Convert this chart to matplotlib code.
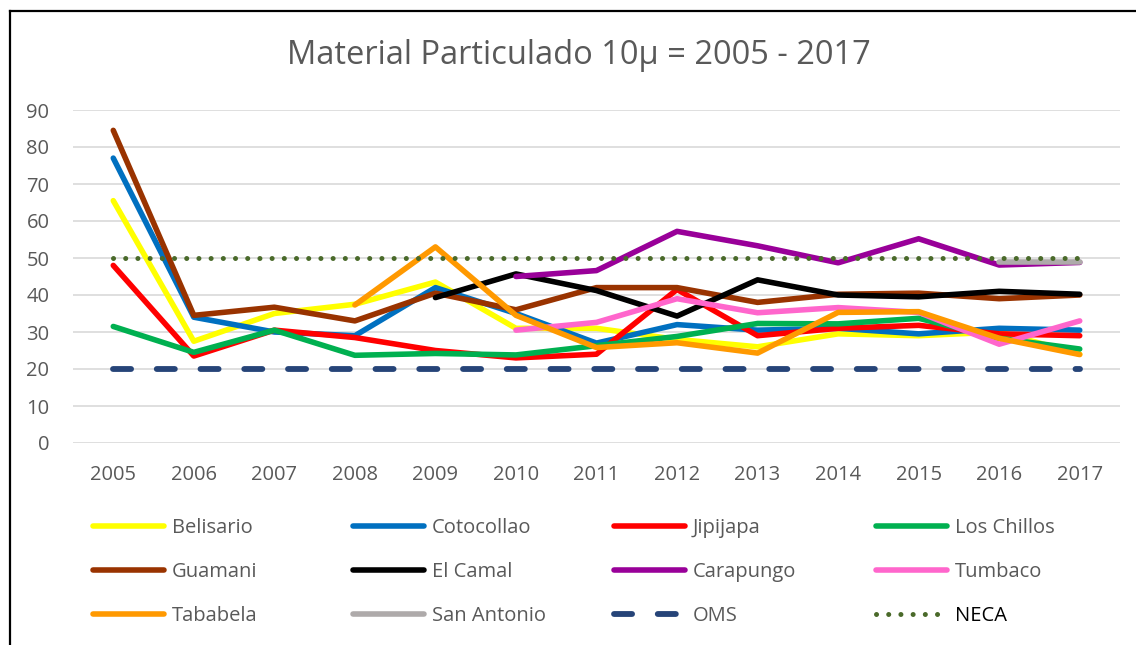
import matplotlib.pyplot as plt
import numpy as np
from matplotlib.lines import Line2D

plt.rcParams['font.family'] = ['Open Sans', 'DejaVu Sans']

years = ['2005', '2006', '2007', '2008', '2009', '2010', '2011',
         '2012', '2013', '2014', '2015', '2016', '2017']
nan = np.nan

belisario   = [65.5, 27.5, 35.0, 37.5, 43.5, 31.0, 31.0, 28.0, 26.0, 29.5, 29.0, 30.0, 24.0]
cotocollao  = [77.0, 34.0, 30.0, 29.0, 42.0, 35.0, 27.0, 32.0, 30.5, 31.0, 29.5, 31.0, 30.5]
jipijapa    = [48.0, 23.5, 30.5, 28.5, 25.0, 23.0, 24.0, 41.5, 29.0, 31.0, 31.8, 29.5, 29.0]
los_chillos = [31.5, 24.5, 30.5, 23.7, 24.2, 23.8, 26.3, 28.8, 32.3, 32.2, 33.7, 28.3, 25.4]
guamani     = [84.5, 34.5, 36.7, 33.0, 40.5, 36.0, 42.0, 42.0, 38.0, 40.2, 40.5, 39.0, 40.0]
el_camal    = [nan, nan, nan, nan, 39.3, 45.7, 41.2, 34.3, 44.1, 40.0, 39.5, 41.0, 40.2]
carapungo   = [nan, nan, nan, nan, nan, 45.0, 46.6, 57.2, 53.3, 48.7, 55.2, 48.1, 48.8]
tumbaco     = [nan, nan, nan, nan, nan, 30.5, 32.6, 39.0, 35.2, 36.6, 35.3, 26.7, 33.0]
tababela    = [nan, nan, nan, 37.3, 53.0, 34.5, 25.8, 27.1, 24.3, 35.3, 35.5, 28.3, 23.9]
san_antonio = [nan, nan, nan, nan, nan, nan, nan, nan, nan, nan, nan, 48.8, 48.8]
oms         = [20] * 13
neca        = [50] * 13

series = [
    ('Belisario', belisario, '#FFFF00'),
    ('Cotocollao', cotocollao, '#0070C0'),
    ('Jipijapa', jipijapa, '#FF0000'),
    ('Los Chillos', los_chillos, '#00B050'),
    ('Guamani', guamani, '#993300'),
    ('El Camal', el_camal, '#000000'),
    ('Carapungo', carapungo, '#990099'),
    ('Tumbaco', tumbaco, '#FF66CC'),
    ('Tababela', tababela, '#FF9900'),
    ('San Antonio', san_antonio, '#AEAAAA'),
]

fig = plt.figure(figsize=(11.36, 6.45), dpi=100)
ax = fig.add_axes([73 / 1136, 1 - 443 / 645, (1120 - 73) / 1136, (443 - 110) / 645])

x = np.arange(len(years))
handles = []
for name, vals, col in series:
    h, = ax.plot(x, vals, color=col, lw=4, solid_capstyle='round',
                 solid_joinstyle='round', label=name)
    handles.append(h)

h_oms, = ax.plot(x, oms, color='#264478', lw=4.2, linestyle=(0, (3.1, 4.4)),
                 dash_capstyle='round', label='OMS')
h_neca, = ax.plot(x, neca, color='#4A6A2A', lw=3.6, linestyle=(0, (0.01, 2.43)),
                  dash_capstyle='round', label='NECA')
handles += [h_oms, h_neca]

ax.set_xlim(-0.5, len(years) - 0.5)
ax.set_ylim(0, 90)
ax.set_yticks(range(0, 91, 10))
ax.set_xticks(x)
ax.set_xticklabels(years)
ax.yaxis.grid(True, color='#D9D9D9', lw=1.2)
ax.set_axisbelow(True)
for s in ax.spines.values():
    s.set_visible(False)
ax.tick_params(axis='both', length=0, labelsize=14.5, labelcolor='#595959')
ax.tick_params(axis='y', pad=17)
ax.tick_params(axis='x', pad=16)

fig.text(579 / 1136, 1 - 56 / 645, 'Material Particulado 10\u03bc = 2005 - 2017',
         ha='center', va='center', fontsize=23.5, color='#595959')

# legend: 4 columns laid out like Excel (equal widths)
col_x = [93, 353, 614, 876]
for j in range(4):
    hs = handles[j::4]
    leg = fig.legend(handles=hs, labels=[h.get_label() for h in hs],
                     loc='upper left', bbox_to_anchor=(col_x[j] / 1136, 1 - 518 / 645),
                     frameon=False, fontsize=14.5, handlelength=3.55,
                     handletextpad=0.35, labelspacing=1.2, borderpad=0,
                     borderaxespad=0)
    for t in leg.get_texts():
        t.set_color('#000000' if t.get_text() == 'NECA' else '#595959')

# chart border (left and top visible)
fig.add_artist(Line2D([9.5 / 1136, 9.5 / 1136], [0, 1 - 11 / 645], color='black', lw=1.6))
fig.add_artist(Line2D([9.5 / 1136, 1], [1 - 11 / 645, 1 - 11 / 645], color='black', lw=1.6))

fig.savefig('out.png', dpi=100)
